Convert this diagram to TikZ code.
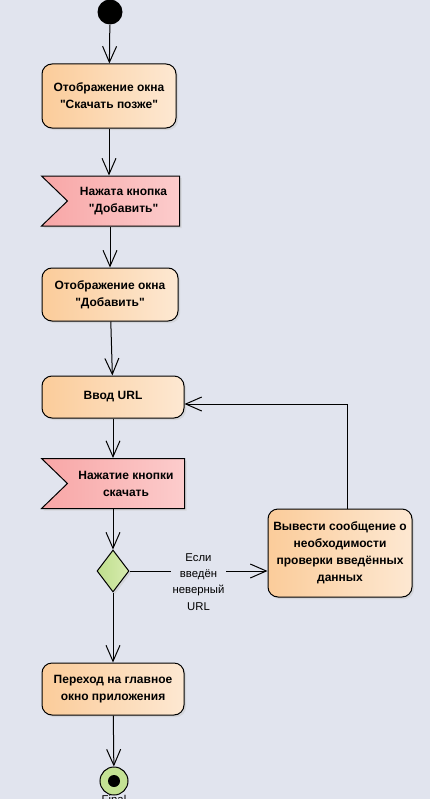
\documentclass[tikz,border=0pt]{standalone}
\usepackage{fontspec}
\setmainfont{Liberation Sans}[Ligatures=TeXOff]
\usetikzlibrary{arrows.meta,shapes.geometric,shapes.symbols,shadows}
\definecolor{bg}{RGB}{225,228,238}
\definecolor{actl}{RGB}{251,204,154}
\definecolor{actr}{RGB}{253,232,210}
\definecolor{evtl}{RGB}{248,166,166}
\definecolor{evtr}{RGB}{252,204,204}
\definecolor{decl}{RGB}{190,222,140}
\definecolor{decr}{RGB}{216,236,176}
\definecolor{finc}{RGB}{196,226,148}
\begin{document}
\begin{tikzpicture}[x=0.75pt,y=-0.75pt,
	shade/.style={drop shadow={shadow xshift=1.5pt,shadow yshift=-1.5pt,fill=black!22}},
	act/.style={draw, line width=0.75pt, rounded corners=7.5pt, left color=actl, right color=actr, shade, align=center, inner sep=0pt, font=\fontsize{9}{12.75}\selectfont\bfseries},
	evt/.style={signal, signal from=west, signal to=nowhere, signal pointer angle=88, draw, line width=0.75pt, left color=evtl, right color=evtr, shade, inner sep=0pt, align=center, font=\fontsize{9}{12.75}\selectfont\bfseries},
	flow/.style={-{Straight Barb[length=12pt,width=10.5pt]}, line width=0.75pt}]
	\fill[bg] (0,0) rectangle (430,799);
	\useasboundingbox (0,0) rectangle (430,799);
	% nodes
	\node [circle, fill=black, minimum size=18.75pt, inner sep=0pt] (start) at (110,12) {};
	\node [act, minimum width=100.5pt, minimum height=48pt] (showlater) at (109,96) {Отображение окна\\"Скачать позже"};
	\node [evt, minimum width=103.5pt, minimum height=37.5pt] (pressadd) at (123.5,201) {Нажата кнопка\\"Добавить"};
	\node [act, minimum width=102pt, minimum height=39.75pt] (showadd) at (110,294.5) {Отображение окна\\"Добавить"};
	\node [act, minimum width=106.5pt, minimum height=31.5pt] (inurl) at (113,397) {Ввод URL};
	\node [evt, minimum width=107.25pt, minimum height=37.5pt] (pressget) at (126,483.5) {Нажатие кнопки\\скачать};
	\node [diamond, draw, line width=0.75pt, left color=decl, right color=decr, shade, minimum width=24pt, minimum height=31.5pt, inner sep=0pt] (check) at (113,571) {};
	\node [act, minimum width=108pt, minimum height=66pt] (msg) at (340,553) {Вывести сообщение о\\необходимости\\проверки введённых\\данных};
	\node [act, minimum width=106.5pt, minimum height=39pt] (mainwin) at (113,689) {Переход на главное\\окно приложения};
	\node [circle, draw, line width=0.75pt, fill=finc, minimum size=21pt, inner sep=0pt,
		path picture={\fill[black] (path picture bounding box.center) circle (4.5pt);},
		label={[inner sep=0pt, font=\fontsize{8.5}{10}\selectfont]south:Final}] (fin) at (114,781) {};
	% flows
	\draw [flow] (start) -- (showlater);
	\draw [flow] (showlater.south) -- (showlater.south |- pressadd.north);
	\draw [flow] (showadd |- pressadd.south) -- (showadd);
	\draw [flow] (showadd) -- (inurl);
	\draw [flow] (inurl.south) -- (inurl.south |- pressget.north);
	\draw [flow] (check |- pressget.south) -- (check);
	\draw [flow] (check) -- (msg.west |- check) node [midway, yshift=-8pt, fill=bg, inner sep=1pt, align=center, font=\fontsize{8.5}{12.25}\selectfont] {Если\\введён\\неверный\\URL};
	\draw [flow] ([xshift=5.25pt]msg.north) |- ([yshift=-5.25pt]inurl.east);
	\draw [flow] (check) -- (mainwin);
	\draw [flow] (mainwin) -- (fin);
\end{tikzpicture}
\end{document}
